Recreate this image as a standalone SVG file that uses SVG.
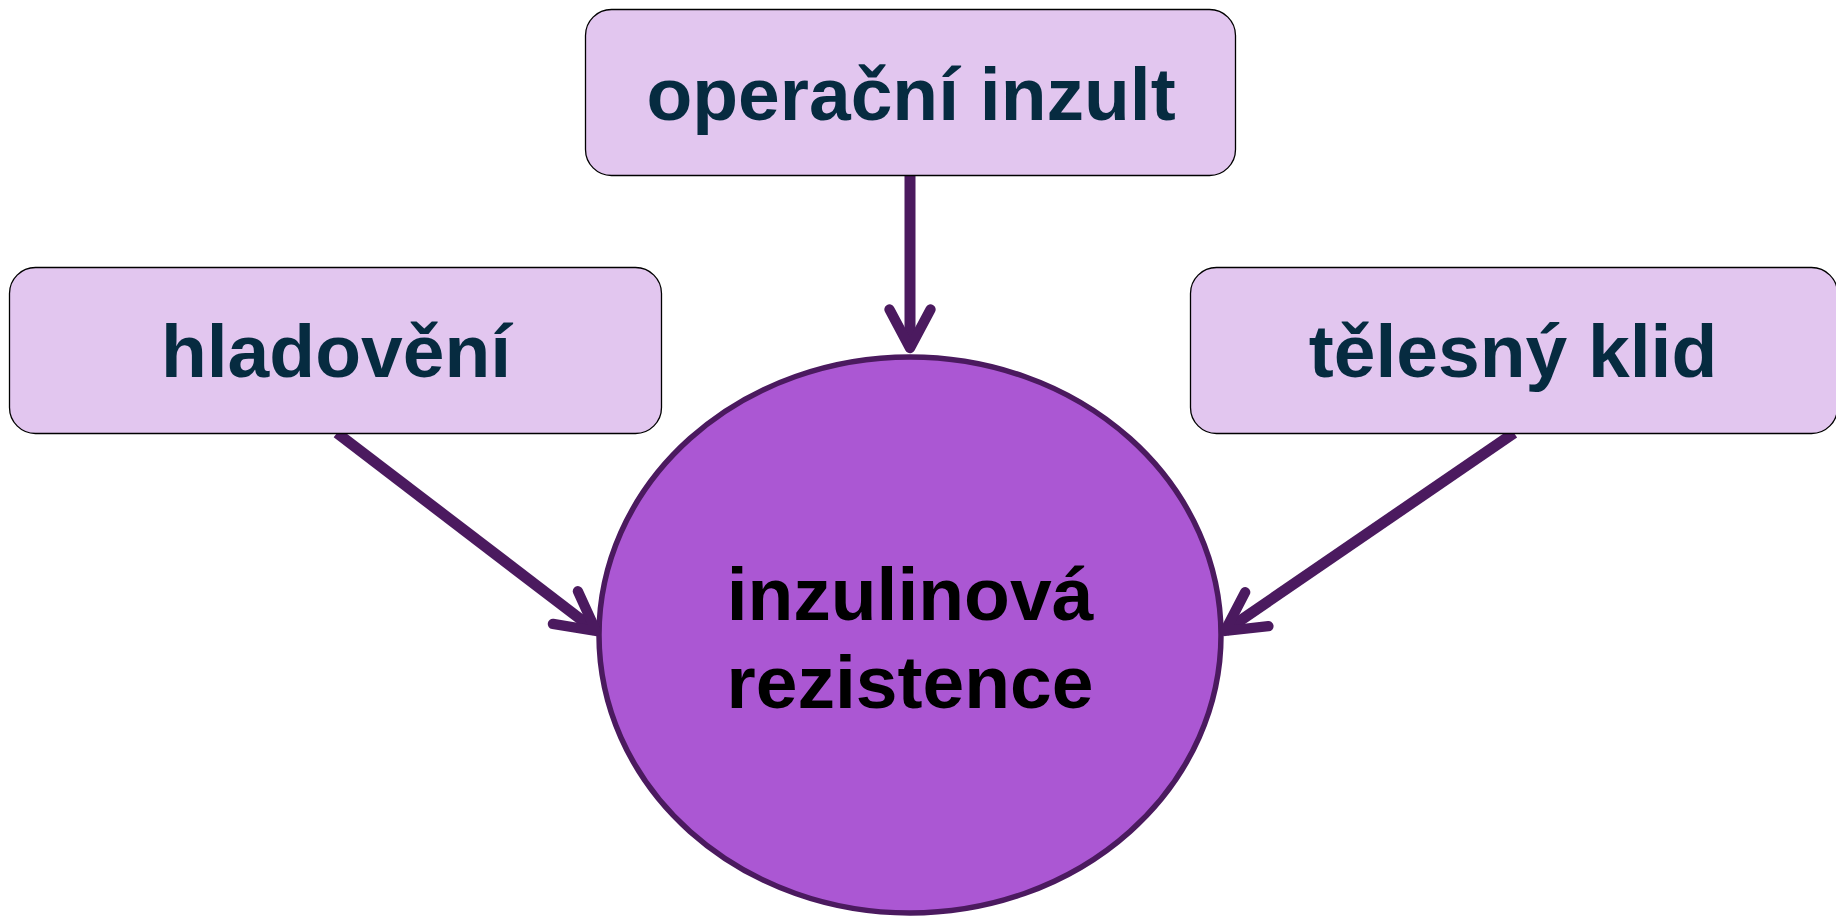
<svg xmlns="http://www.w3.org/2000/svg" width="1836" height="916" viewBox="0 0 1836 916">
<style>
.box{fill:#e2c6ef;stroke:#000;stroke-width:1.3}
.lbl{font-family:"Liberation Sans",Arial,sans-serif;font-weight:bold;font-size:75px;fill:#062b40;text-anchor:middle}
.clbl{font-family:"Liberation Sans",Arial,sans-serif;font-weight:bold;font-size:75px;fill:#000;text-anchor:middle}
.conn{stroke:#4b1a5f;stroke-width:11;fill:none}
</style>
<defs>
<marker id="ah" markerUnits="userSpaceOnUse" orient="auto" refX="0" refY="0" markerWidth="60" markerHeight="60" viewBox="-60 -30 70 60" overflow="visible">
<path d="M-45,-24 L0,0 L-45,24" fill="none" stroke="#4b1a5f" stroke-width="12" stroke-linecap="round" stroke-linejoin="round"/>
</marker>
</defs>
<rect width="1836" height="916" fill="#fff"/>
<g id="node-center">
<ellipse cx="910" cy="635" rx="311" ry="278" fill="#ab57d3" stroke="#4b1a5f" stroke-width="5.5"/>
<text class="clbl" x="910" y="620">inzulinová</text>
<text class="clbl" x="910" y="708">rezistence</text>
</g>
<g id="connectors">
<path class="conn" d="M910,176 L910,348" marker-end="url(#ah)"/>
<path class="conn" d="M337,433 L596,631" marker-end="url(#ah)"/>
<path class="conn" d="M1514,433 L1225,631" marker-end="url(#ah)"/>
</g>
<g id="node-top">
<rect class="box" x="585.5" y="9.5" width="650" height="166" rx="26"/>
<text class="lbl" x="911" y="120">operační inzult</text>
</g>
<g id="node-left">
<rect class="box" x="9.5" y="267.5" width="652" height="166" rx="26"/>
<text class="lbl" x="336" y="377">hladovění</text>
</g>
<g id="node-right">
<rect class="box" x="1190.5" y="267.5" width="647" height="166" rx="26"/>
<text class="lbl" x="1513" y="377">tělesný klid</text>
</g>
</svg>
